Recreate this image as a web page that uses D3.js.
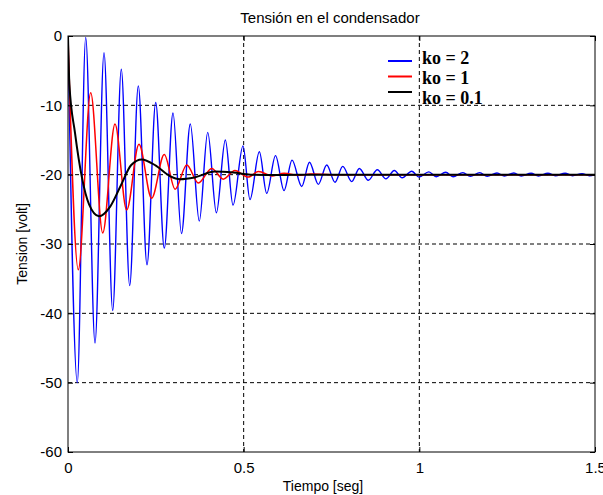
<!DOCTYPE html>
<html>
<head>
<meta charset="utf-8">
<script src="https://cdn.jsdelivr.net/npm/d3@7"></script>
<style>
    body { margin: 0; background: #fff; }
</style>
</head>
<body>
<svg id="chart" width="603" height="495" font-family="Liberation Sans, Arial, sans-serif"></svg>
<script>
// Data: [tiempo (s), tension (V)]
var blueData = [
    [0, 0], [0.0265, -50.0], [0.0504, -0.2], [0.0769, -44.3], [0.1025, -2.4], [0.1272, -39.6],
    [0.1517, -4.8], [0.1756, -36.0], [0.2001, -7.2], [0.2249, -33.0], [0.2496, -9.6], [0.2741, -30.6],
    [0.2989, -11.1], [0.323, -28.5], [0.3481, -12.7], [0.3737, -26.7], [0.3977, -13.9], [0.4224, -25.5],
    [0.4478, -15.0], [0.4697, -24.4], [0.4981, -15.85], [0.518, -23.6], [0.5446, -16.7], [0.5656, -22.7],
    [0.5907, -17.25], [0.6149, -22.3], [0.6376, -17.9], [0.6652, -21.7], [0.6874, -18.2], [0.7125, -21.4],
    [0.7364, -18.6], [0.76, -21.1], [0.782, -18.8], [0.8076, -21.0], [0.8292, -19.1], [0.8548, -20.8],
    [0.8805, -19.3], [0.905, -20.6], [0.9288, -19.4], [0.951, -20.45], [0.9784, -19.5], [0.999, -20.35],
    [1.027, -19.6], [1.048, -20.3], [1.075, -19.65], [1.096, -20.3], [1.124, -19.7], [1.145, -20.25],
    [1.172, -19.7], [1.193, -20.25], [1.221, -19.75], [1.242, -20.2], [1.269, -19.75], [1.290, -20.2],
    [1.318, -19.8], [1.339, -20.2], [1.366, -19.8], [1.387, -20.15], [1.415, -19.8], [1.436, -20.15],
    [1.463, -19.85], [1.484, -20.15], [1.5, -20.0]
];

var redData = [
    [0, 0], [0.0293, -33.7], [0.0646, -8.2], [0.0988, -28.4], [0.1338, -12.7], [0.167, -25.1],
    [0.202, -15.6], [0.238, -23.4], [0.274, -17.1], [0.305, -22.1], [0.338, -18.6], [0.371, -21.2],
    [0.409, -19.1], [0.442, -20.65], [0.475, -19.4], [0.513, -20.35], [0.542, -19.55], [0.582, -20.2],
    [0.615, -19.8], [0.655, -20.1], [0.69, -19.9], [0.75, -20.0], [1.5, -20.0]
];

var blackData = [
    [0, 0], [0.004, -7], [0.02, -14], [0.04, -20.5], [0.06, -24.3], [0.088, -26.0], [0.12, -24.6],
    [0.149, -21.7], [0.18, -18.6], [0.21, -17.8], [0.25, -18.7], [0.29, -20.2], [0.319, -20.65],
    [0.36, -20.4], [0.418, -19.55], [0.47, -19.7], [0.52, -20.0], [0.6, -20.05], [0.7, -20.0], [1.5, -20.0]
];

var legendLabels = ["ko = 2", "ko = 1", "ko = 0.1"];
var seriesColors = ["#0000ff", "#ff0000", "#000000"];
var xTicks = [0, 0.5, 1, 1.5];
var yTicks = [-60, -50, -40, -30, -20, -10, 0];

var svg = d3.select("#chart");

var plotLeft = 68, plotRight = 595, plotTop = 36, plotBottom = 452;

var x = d3.scaleLinear().domain([0, 1.5]).range([plotLeft, plotRight]);
var y = d3.scaleLinear().domain([-60, 0]).range([plotBottom, plotTop]);

// Grid (dashed)
var grid = svg.append("g").attr("class", "grid");
grid.selectAll("line.gx")
    .data(xTicks.slice(1, -1))
    .enter()
    .append("line")
    .attr("x1", function (d) { return x(d); })
    .attr("x2", function (d) { return x(d); })
    .attr("y1", plotTop)
    .attr("y2", plotBottom)
    .attr("stroke", "#000")
    .attr("stroke-dasharray", "4 3");
grid.selectAll("line.gy")
    .data(yTicks.slice(1, -1))
    .enter()
    .append("line")
    .attr("x1", plotLeft)
    .attr("x2", plotRight)
    .attr("y1", function (d) { return y(d); })
    .attr("y2", function (d) { return y(d); })
    .attr("stroke", "#000")
    .attr("stroke-dasharray", "4 3");

// Lines
svg.append("clipPath").attr("id", "clip")
    .append("rect")
    .attr("x", plotLeft).attr("y", plotTop)
    .attr("width", plotRight - plotLeft).attr("height", plotBottom - plotTop);

var line = d3.line()
    .x(function (d) { return x(d[0]); })
    .y(function (d) { return y(d[1]); })
    .curve(d3.curveMonotoneX);

var allSeries = [blueData, redData, blackData];
var widths = [1.4, 1.5, 2];
var plot = svg.append("g").attr("clip-path", "url(#clip)");
allSeries.forEach(function (s, i) {
    plot.append("path")
        .attr("d", line(s))
        .attr("fill", "none")
        .attr("stroke", seriesColors[i])
        .attr("stroke-width", widths[i]);
});

// Axes
var xAxis = d3.axisBottom(x).tickValues(xTicks).tickSize(-5).tickPadding(10)
    .tickFormat(function (d) { return String(d); });
var yAxis = d3.axisLeft(y).tickValues(yTicks).tickSize(-5).tickPadding(10)
    .tickFormat(function (d) { return String(d); });

var gx = svg.append("g").attr("transform", "translate(0," + plotBottom + ")").call(xAxis);
var gy = svg.append("g").attr("transform", "translate(" + plotLeft + ",0)").call(yAxis);
[gx, gy].forEach(function (g) {
    g.select(".domain").remove();
    g.selectAll("text").attr("font-size", 15).attr("fill", "#000")
        .attr("font-family", "Liberation Sans, Arial, sans-serif");
    g.selectAll("line").attr("stroke", "#000");
});
gy.selectAll("text").attr("dx", 4);

// Top and right ticks
svg.append("g").attr("transform", "translate(0," + plotTop + ")")
    .call(d3.axisTop(x).tickValues(xTicks).tickSize(-5).tickFormat(""))
    .call(function (g) { g.select(".domain").remove(); });
svg.append("g").attr("transform", "translate(" + plotRight + ",0)")
    .call(d3.axisRight(y).tickValues(yTicks).tickSize(-5).tickFormat(""))
    .call(function (g) { g.select(".domain").remove(); });

// Frame
svg.append("rect")
    .attr("x", plotLeft).attr("y", plotTop)
    .attr("width", plotRight - plotLeft).attr("height", plotBottom - plotTop)
    .attr("fill", "none")
    .attr("stroke", "#000");

// Title and labels
svg.append("text")
    .attr("x", 330).attr("y", 23)
    .attr("text-anchor", "middle")
    .attr("font-size", 15)
    .text("Tensión en el condensador");

svg.append("text")
    .attr("x", 323).attr("y", 491)
    .attr("text-anchor", "middle")
    .attr("font-size", 14)
    .text("Tiempo [seg]");

svg.append("text")
    .attr("transform", "translate(27,244) rotate(-90)")
    .attr("text-anchor", "middle")
    .attr("font-size", 14)
    .text("Tension [volt]");

// Legend
var legend = svg.append("g");
legendLabels.forEach(function (label, i) {
    legend.append("line")
        .attr("x1", 388).attr("x2", 412)
        .attr("y1", 61 + i * 15.5).attr("y2", 61 + i * 15.5)
        .attr("stroke", seriesColors[i])
        .attr("stroke-width", 2);
    legend.append("text")
        .attr("x", 422).attr("y", 64 + i * 20)
        .attr("font-family", "Liberation Serif, Times New Roman, serif")
        .attr("font-weight", "bold")
        .attr("font-size", 18)
        .text(label);
});
</script>
</body>
</html>
